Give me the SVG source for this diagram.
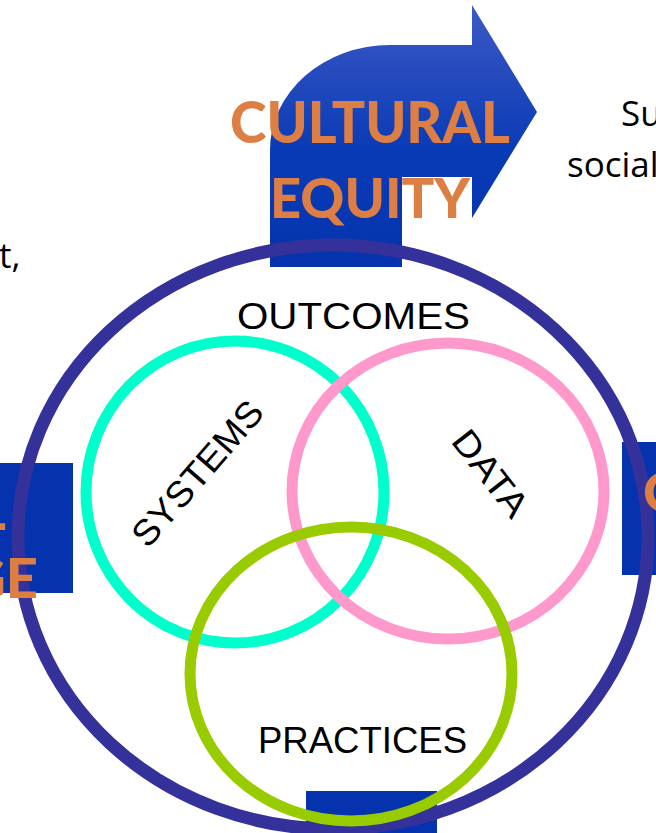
<svg xmlns="http://www.w3.org/2000/svg" width="656" height="833" viewBox="0 0 656 833">
<defs>
<linearGradient id="arrowGrad" x1="0" y1="0" x2="0" y2="1">
<stop offset="0" stop-color="#3D59C4"/>
<stop offset="0.55" stop-color="#0A3BB6"/>
<stop offset="1" stop-color="#0433AD"/>
</linearGradient>
<style>
.box{fill:#0433AD;}
.orange{fill:#DD7E45;font-family:Lato,"Liberation Sans",sans-serif;font-weight:900;}
.label{fill:#000;font-family:"Liberation Sans",Arial,sans-serif;font-size:36px;}
.side{fill:#000;font-family:"Open Sans","Liberation Sans",sans-serif;font-size:35px;}
.ring{fill:none;}
</style>
</defs>
<rect width="656" height="833" fill="#fff"/>

<g id="side-texts">
<text class="side" x="-1" y="268">t,</text>
<text class="side" x="621" y="126">Su</text>
<text class="side" x="567" y="177">social</text>
</g>

<g id="left-box">
<rect class="box" x="0" y="463" width="73" height="130"/>
</g>
<g id="right-box">
<rect class="box" x="622" y="442" width="40" height="133"/>
</g>
<g id="bottom-box">
<rect class="box" x="306" y="791" width="131" height="50"/>
</g>

<g id="cultural-equity">
<path d="M 270 267 L 270 150 A 120 105 0 0 1 390 45 L 472 45 L 472 5 L 537 112 L 472 218 L 472 177 L 402 177 L 402 267 Z" fill="url(#arrowGrad)"/>
<text class="orange" x="230" y="143" font-size="57" textLength="280" lengthAdjust="spacingAndGlyphs">CULTURAL</text>
<text class="orange" x="270" y="218" font-size="56" textLength="200" lengthAdjust="spacingAndGlyphs">EQUITY</text>
</g>

<g id="outcomes">
<ellipse class="ring" cx="333" cy="537" rx="315" ry="292" stroke="#35319A" stroke-width="13"/>
<text class="label" x="237" y="329" textLength="233" lengthAdjust="spacingAndGlyphs">OUTCOMES</text>
</g>

<g id="left-box-text">
<text class="orange" x="6" y="530" font-size="56" text-anchor="end">SOCIAL</text>
<text class="orange" x="38" y="598" font-size="56" text-anchor="end">GE</text>
</g>
<g id="right-box-text">
<text class="orange" x="643" y="512" font-size="56">C</text>
</g>

<g id="systems">
<ellipse class="ring" cx="235" cy="492" rx="149" ry="151" stroke="#00FFCC" stroke-width="11"/>
<text class="label" transform="translate(197,473) rotate(-49)" x="0" y="13" text-anchor="middle" textLength="180" lengthAdjust="spacingAndGlyphs">SYSTEMS</text>
</g>

<g id="data">
<ellipse class="ring" cx="448" cy="491" rx="156" ry="148" stroke="#FF99CC" stroke-width="11"/>
<text class="label" transform="translate(491,473) rotate(52)" x="0" y="13" text-anchor="middle" textLength="100" lengthAdjust="spacingAndGlyphs">DATA</text>
</g>

<g id="practices">
<ellipse class="ring" cx="351" cy="674" rx="161" ry="147" stroke="#99CC00" stroke-width="11"/>
<text class="label" x="258" y="753" font-size="38" textLength="209" lengthAdjust="spacingAndGlyphs">PRACTICES</text>
</g>
</svg>
